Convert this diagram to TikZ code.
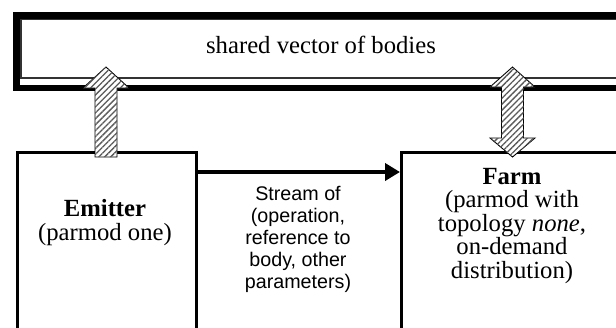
\documentclass[tikz,border=0pt]{standalone}
\usepackage{fontspec}
\setmainfont{Liberation Serif}
\newfontfamily\arialf{Liberation Sans}
\usetikzlibrary{arrows.meta,patterns.meta,calc}
\begin{document}
\begin{tikzpicture}[x=1pt,y=-1pt,
  serifbig/.style={font=\fontsize{24.7}{23.5}\selectfont, inner sep=0pt, align=center},
  sansmid/.style={font=\arialf\fontsize{19.7}{22}\selectfont, inner sep=0pt, align=center},
  boxframe/.style={draw=black, line width=3pt},
  hatcharrow/.style={draw=black, line width=0.9pt, fill=white,
     postaction={pattern={Lines[angle=45,distance=4.2pt,line width=1.3pt]}, pattern color=black!65}},
  streamarrow/.style={draw=black, line width=4.5pt, -{Triangle[length=15pt,width=17pt]}}]
\useasboundingbox (0,0) rectangle (616,327);
% shared vector (double frame)
\node[draw=black, line width=6.5pt, minimum width=640pt, minimum height=72.5pt, anchor=north west, inner sep=0pt] (sharedout) at (13,12) {};
\node[draw=black!80, line width=1.5pt, minimum width=640pt, minimum height=58.5pt, anchor=north west, inner sep=0pt] (sharedin) at (20,18.5) {};
\node[serifbig] (sharedtxt) at (321,45) {shared vector of bodies};
% emitter box
\node[boxframe, minimum width=179.5pt, minimum height=260pt, anchor=north west, inner sep=0pt] (emitter) at (15.5,150.5) {};
\node[serifbig, anchor=base] (emittxt) at (105,240) {\textbf{Emitter}\\(parmod one)};
% farm box
\node[boxframe, minimum width=300pt, minimum height=260pt, anchor=north west, inner sep=0pt] (farm) at (400,150.5) {};
\node[serifbig, anchor=base] (farmtxt) at (512,278) {\textbf{Farm}\\(parmod with\\topology \textit{none},\\on-demand\\distribution)};
% stream arrow
\coordinate (sfrom) at (195,172);
\coordinate (sto) at (400,172);
\draw[streamarrow] (sfrom) -- (sto);
\node[sansmid, anchor=base] (streamtxt) at (298,288) {Stream of\\(operation,\\reference to\\body, other\\parameters)};
% hatched arrows
\coordinate (ea) at (106,157);
\coordinate (eb) at (106,67);
\draw[hatcharrow] ($(ea)+(-11,0)$) -- ($(eb)+(-11,21)$) -- ($(eb)+(-23,21)$) -- (eb) -- ($(eb)+(23,21)$) -- ($(eb)+(11,21)$) -- ($(ea)+(11,0)$) -- cycle;
\coordinate (fa) at (512.5,157);
\coordinate (fb) at (512.5,67);
\draw[hatcharrow] (fa) -- ($(fa)+(-22.5,-19)$) -- ($(fa)+(-11,-19)$) -- ($(fb)+(-11,20)$) -- ($(fb)+(-22.5,20)$) -- (fb) -- ($(fb)+(22.5,20)$) -- ($(fb)+(11,20)$) -- ($(fa)+(11,-19)$) -- ($(fa)+(22.5,-19)$) -- cycle;
\end{tikzpicture}
\end{document}
